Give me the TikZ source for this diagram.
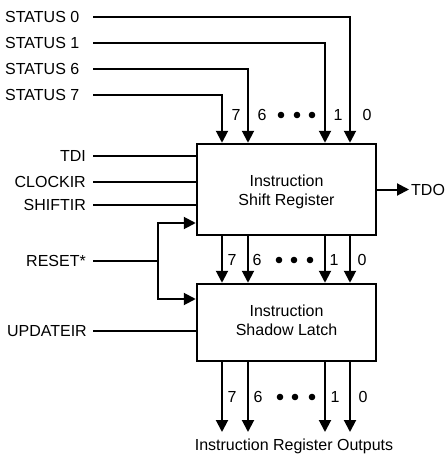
\documentclass[tikz,border=0pt]{standalone}
\usepackage{fontspec}
\setmainfont{Liberation Sans}
\usetikzlibrary{arrows.meta,calc}
\begin{document}
\begin{tikzpicture}[x=1pt,y=-1pt,
  wire/.style={line width=2pt,line join=miter},
  arr/.style={wire,-{Triangle[length=12pt,width=12pt]}},
  box/.style={draw,line width=2.5pt,minimum width=179pt,inner sep=0pt},
  boxtext/.style={align=center,inner sep=0pt,font=\fontsize{16}{19}\selectfont},
  lbl/.style={inner sep=0pt,font=\fontsize{16}{18}\selectfont},
  dotc/.style={fill=black}]
\useasboundingbox (0,0) rectangle (447,455);
% boxes
\node[box,minimum height=91pt] (sr) at (286.5,189.5) {};
\node[boxtext] (srt) at (286.5,192) {Instruction\\Shift Register};
\node[box,minimum height=77pt] (sl) at (286.5,322.5) {};
\node[boxtext] (slt) at (286.5,320.5) {Instruction\\Shadow Latch};
% bit columns
\coordinate (c7) at (222,0);
\coordinate (c6) at (248,0);
\coordinate (c1) at (325,0);
\coordinate (c0) at (350,0);
% status inputs
\node[lbl,anchor=west] (st0) at (5,17) {STATUS 0};
\node[lbl,anchor=west] (st1) at (5,43) {STATUS 1};
\node[lbl,anchor=west] (st6) at (5,69) {STATUS 6};
\node[lbl,anchor=west] (st7) at (5,95) {STATUS 7};
\coordinate (s0) at (93,17);
\coordinate (s1) at (93,43);
\coordinate (s6) at (93,69);
\coordinate (s7) at (93,95);
\draw[arr] (s0) -| (c0 |- sr.north);
\draw[arr] (s1) -| (c1 |- sr.north);
\draw[arr] (s6) -| (c6 |- sr.north);
\draw[arr] (s7) -| (c7 |- sr.north);
% top bit labels
\node[lbl] (ta7) at (236,115) {7};
\node[lbl] (ta6) at (262,115) {6};
\fill[dotc] (281,115) circle (3.3pt) (297,115) circle (3.3pt) (312,115) circle (3.3pt);
\node[lbl] (ta1) at (338,115) {1};
\node[lbl] (ta0) at (367,115) {0};
% left inputs
\node[lbl,anchor=east] (tdi) at (86,156) {TDI};
\node[lbl,anchor=east] (clk) at (86,182) {CLOCKIR};
\node[lbl,anchor=east] (shf) at (86,205) {SHIFTIR};
\node[lbl,anchor=east] (rst) at (86,261) {RESET*};
\node[lbl,anchor=east] (upd) at (87,331) {UPDATEIR};
\coordinate (itdi) at (93,156);
\coordinate (iclk) at (93,182);
\coordinate (ishf) at (93,205);
\coordinate (irst) at (93,261);
\coordinate (iupd) at (93,331);
\draw[wire] (itdi) -- (itdi -| sr.west);
\draw[wire] (iclk) -- (iclk -| sr.west);
\draw[wire] (ishf) -- (ishf -| sr.west);
\draw[wire] (iupd) -- (iupd -| sl.west);
% reset branch
\coordinate (jn) at (158,261);
\coordinate (ra) at (0,223);
\coordinate (rb) at (0,299);
\draw[wire] (irst) -- (jn);
\draw[arr] (jn) |- (sr.west |- ra);
\draw[arr] (jn) |- (sl.west |- rb);
% TDO
\coordinate (tdoend) at (409,189.5);
\draw[arr] (sr.east) -- (tdoend);
\node[lbl,anchor=west] (tdo) at (411,189.5) {TDO};
% between boxes
\draw[arr] (c7 |- sr.south) -- (c7 |- sl.north);
\draw[arr] (c6 |- sr.south) -- (c6 |- sl.north);
\draw[arr] (c1 |- sr.south) -- (c1 |- sl.north);
\draw[arr] (c0 |- sr.south) -- (c0 |- sl.north);
\node[lbl] (ma7) at (232,260) {7};
\node[lbl] (ma6) at (257,260) {6};
\fill[dotc] (279,260) circle (3.3pt) (294,260) circle (3.3pt) (310,260) circle (3.3pt);
\node[lbl] (ma1) at (334,260) {1};
\node[lbl] (ma0) at (362,260) {0};
% outputs
\coordinate (ob) at (0,432);
\draw[arr] (c7 |- sl.south) -- (c7 |- ob);
\draw[arr] (c6 |- sl.south) -- (c6 |- ob);
\draw[arr] (c1 |- sl.south) -- (c1 |- ob);
\draw[arr] (c0 |- sl.south) -- (c0 |- ob);
\node[lbl] (ba7) at (232,397) {7};
\node[lbl] (ba6) at (258,397) {6};
\fill[dotc] (280,397) circle (3.3pt) (295,397) circle (3.3pt) (312,397) circle (3.3pt);
\node[lbl] (ba1) at (335,397) {1};
\node[lbl] (ba0) at (363,397) {0};
\node[lbl] (outs) at (294,446) {Instruction Register Outputs};
\end{tikzpicture}
\end{document}
